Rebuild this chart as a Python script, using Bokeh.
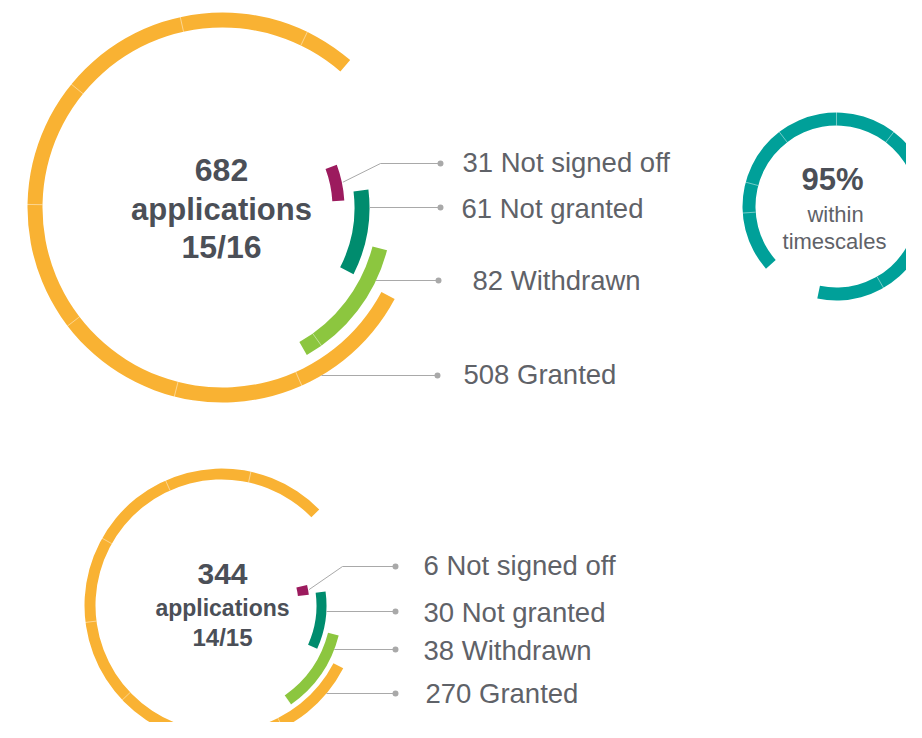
import math
from bokeh.plotting import figure
from bokeh.models import Range1d
from bokeh.embed import file_html
from bokeh.resources import INLINE
from bokeh.core.properties import value

# ---------------- data ----------------
categories = ["Not signed off", "Not granted", "Withdrawn", "Granted"]
colors = ["#9c1b5e", "#008c6e", "#8cc63f", "#f9b233"]

year_1516 = "15/16"
total_1516 = 682
counts_1516 = [31, 61, 82, 508]

year_1415 = "14/15"
total_1415 = 344
counts_1415 = [6, 30, 38, 270]

within_timescales_pct = 95
ring_color = "#00a099"

# ---------------- page geometry ----------------
W, H = 906, 722


def dx(xr):
    return xr


def dy(yr):
    return H - yr


DARK = "#4b4f57"
LIGHT = "#5f6268"
LEADER = "#a9a9a9"
FONT = value("Liberation Sans")

p = figure(width=W, height=H, x_range=Range1d(0, W), y_range=Range1d(0, H),
           x_axis_location=None, y_axis_location=None, toolbar_location=None,
           output_backend="svg", min_border=0)
p.grid.visible = False
p.outline_line_color = None
p.background_fill_color = "white"
p.border_fill_color = "white"


def draw_chart(counts, total, year, cfg):
    cx, cy = cfg["center"]
    k = cfg["k"]
    for i, (cnt, name, col) in enumerate(zip(counts, categories, colors)):
        r_in, r_out = cfg["radii"][i]
        start = cfg["starts"][i]
        span = cnt / total * 360.0 * k
        a0 = math.radians(start - span)
        a1 = math.radians(start)
        p.annular_wedge(x=[dx(cx)], y=[dy(cy)], inner_radius=r_in, outer_radius=r_out,
                        start_angle=a0, end_angle=a1, direction="anticlock",
                        fill_color=col, line_color=None)
        # faint segment dividers
        for ang in cfg["dividers"].get(i, []):
            a = math.radians(ang)
            p.line(x=[dx(cx) + r_in * math.cos(a), dx(cx) + (r_out + 0.5) * math.cos(a)],
                   y=[dy(cy) + r_in * math.sin(a), dy(cy) + (r_out + 0.5) * math.sin(a)],
                   line_color="white", line_alpha=0.45, line_width=1)
        # leader line
        ly = cfg["leader_y"][i]
        dot_x = cfg["dot_x"][i]
        if i == 0:
            mid = math.radians(start - span / 2)
            sx = dx(cx) + (r_out + 1) * math.cos(mid)
            sy = dy(cy) + (r_out + 1) * math.sin(mid)
            ex, ey = cfg["elbow"]
            xs = [sx, dx(ex), dx(dot_x)]
            ys = [sy, dy(ey), dy(ly)]
        else:
            off = ly - cy
            sx = cx + math.sqrt(max(r_out ** 2 - off ** 2, 0))
            xs = [dx(sx), dx(dot_x)]
            ys = [dy(ly), dy(ly)]
        p.line(x=xs, y=ys, line_color=LEADER, line_width=1)
        p.scatter(x=[dx(dot_x)], y=[dy(ly)], size=6, fill_color=LEADER, line_color=None)
        p.text(x=[dx(cfg["label_x"][i])], y=[dy(cfg["label_mid"][i])],
               text=[f"{cnt} {name}"], text_font=FONT, text_font_size=cfg["label_size"],
               text_color=LIGHT, text_align="left", text_baseline="middle")
    # centre texts
    tx = cfg["text_x"]
    for txt, mid, size in zip([str(total), "applications", year], cfg["text_mid"], cfg["text_sizes"]):
        p.text(x=[dx(tx)], y=[dy(mid)], text=[txt], text_font=FONT, text_font_size=size,
               text_font_style="bold", text_color=DARK, text_align="center",
               text_baseline="middle")


cfg_1516 = dict(
    center=(222, 207), k=1.055,
    radii=[(110, 122), (132, 147), (155, 170), (180, 195)],
    starts=[20.5, 7.0, -14.6, -28.0],
    dividers={2: [-54.4], 3: [294 - 38.3 * n for n in range(7)]},
    leader_y=[163, 207, 280, 375], dot_x=[440, 440, 438, 437], elbow=(380, 163),
    label_x=[462, 461, 472, 463], label_mid=[162, 207.5, 280, 374], label_size="27.5px",
    text_x=221, text_mid=[169, 209, 246.5], text_sizes=["32px", "31px", "32px"],
)

cfg_1415 = dict(
    center=(221, 605), k=1.02,
    radii=[(77, 88), (95, 105), (110, 121), (126, 137)],
    starts=[13.5, 7.7, -14.4, -27.3],
    dividers={2: [-55.0], 3: [296.6 - 36.5 * n for n in range(7)]},
    leader_y=[566, 611, 649, 693], dot_x=[395, 395, 395, 395], elbow=(342, 566),
    label_x=[423, 423, 423, 425], label_mid=[565, 612, 650, 693], label_size="27.5px",
    text_x=222, text_mid=[573, 607.5, 636.5], text_sizes=["30px", "23px", "24px"],
)

draw_chart(counts_1516, total_1516, year_1516, cfg_1516)
draw_chart(counts_1415, total_1415, year_1415, cfg_1415)

# ---------------- 95% within timescales ring ----------------
rc = (836, 206)
r_in, r_out = 81, 94
k95 = 0.945
start95 = -101.8
span95 = within_timescales_pct / 100.0 * 360.0 * k95
p.annular_wedge(x=[dx(rc[0])], y=[dy(rc[1])], inner_radius=r_in, outer_radius=r_out,
                start_angle=math.radians(start95), end_angle=math.radians(start95 + span95),
                direction="anticlock", fill_color=ring_color, line_color=None)
for ang in [52.5 + 37.5 * n for n in range(-3, 4)] + [184.0]:
    a = math.radians(ang)
    p.line(x=[dx(rc[0]) + r_in * math.cos(a), dx(rc[0]) + (r_out + 0.5) * math.cos(a)],
           y=[dy(rc[1]) + r_in * math.sin(a), dy(rc[1]) + (r_out + 0.5) * math.sin(a)],
           line_color="white", line_alpha=0.45, line_width=1)

p.text(x=[dx(832)], y=[dy(179)], text=[f"{within_timescales_pct}%"], text_font=FONT,
       text_font_size="31px", text_font_style="bold", text_color=DARK,
       text_align="center", text_baseline="middle")
p.text(x=[dx(835), dx(834)], y=[dy(213.5), dy(241)], text=["within", "timescales"], text_font=FONT,
       text_font_size="22px", text_color=LIGHT, text_align="center", text_baseline="middle")

open("out.html", "w").write(file_html(p, INLINE))
